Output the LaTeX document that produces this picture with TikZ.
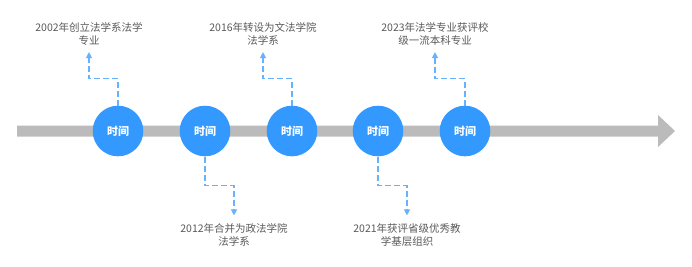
\documentclass[tikz,border=0pt]{standalone}
\usepackage{fontspec}
\setmainfont{Noto Sans CJK SC}
\usepackage{tikz}
\usetikzlibrary{arrows.meta,positioning,calc}
\usepackage{xcolor}
\definecolor{axisgray}{HTML}{BBBBBB}
\definecolor{dotblue}{HTML}{3399FF}
\definecolor{linkblue}{HTML}{66B2FF}
\definecolor{textgray}{HTML}{595959}

\begin{document}
\begin{tikzpicture}[>=Stealth, x=1pt, y=1pt,
  dot/.style={circle,fill=dotblue,minimum size=50.6pt,inner sep=0pt,
    text=white,font=\fontsize{11}{13}\selectfont\bfseries},
  event/.style={align=center,text=textgray,inner sep=3pt,
    font=\fontsize{10.5}{13}\selectfont},
  link/.style={linkblue,line width=1.3pt,dash pattern=on 6pt off 3pt,
    -{Triangle[width=6pt,length=6pt]}}]
  \useasboundingbox (0,0) rectangle (692,266);

  % timeline
  \fill[axisgray] (17,129.5) -- (658,129.5) -- (658,119) -- (675,135)
    -- (658,151) -- (658,140.5) -- (17,140.5) -- cycle;

  % dots
  \node[dot] (t1) at (118,135) {时间};
  \node[dot] (t2) at (205,135) {时间};
  \node[dot] (t3) at (292,135) {时间};
  \node[dot] (t4) at (378,135) {时间};
  \node[dot] (t5) at (465,135) {时间};

  % events
  \node[event] (e1) at (89,232.5) {2002年创立法学系法学\\专业};
  \node[event] (e2) at (234,31) {2012年合并为政法学院\\法学系};
  \node[event] (e3) at (263,232.5) {2016年转设为文法学院\\法学系};
  \node[event] (e4) at (407,31) {2021年获评省级优秀教\\学基层组织};
  \node[event] (e5) at (435,232.5) {2023年法学专业获评校\\级一流本科专业};

  % links
  \draw[link] (t1.north) -- ++(0,26.7) -| ([yshift=-4pt]e1.south);
  \draw[link] (t2.south) -- ++(0,-29) -| ([yshift=5pt]e2.north);
  \draw[link] (t3.north) -- ++(0,26.7) -| ([yshift=-4pt]e3.south);
  \draw[link] (t4.south) -- ++(0,-29) -| ([yshift=5pt]e4.north);
  \draw[link] (t5.north) -- ++(0,26.7) -| ([yshift=-4pt]e5.south);
\end{tikzpicture}
\end{document}
